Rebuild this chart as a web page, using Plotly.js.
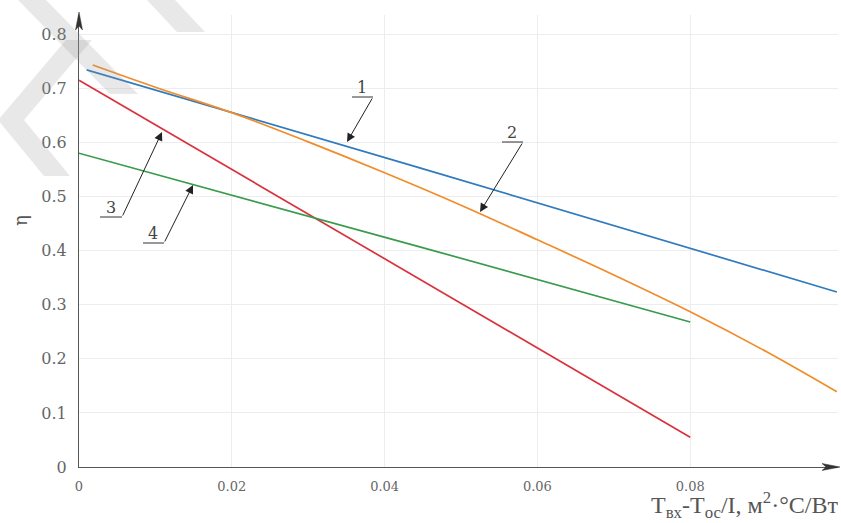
<!DOCTYPE html>
<html>
<head>
<meta charset="utf-8">
<script src="https://cdn.plot.ly/plotly-3.0.1.min.js"></script>
<style>html,body{margin:0;padding:0;background:#fff;}#chart{width:841px;height:523px;}</style>
</head>
<body>
<div id="chart"></div>
<script>
// ---- data ----
var x1 = [0.001, 0.0446, 0.0992];
var y1 = [0.734, 0.553, 0.3235];

var x2 = [0.0018, 0.01, 0.02, 0.03, 0.04, 0.05, 0.06, 0.07, 0.08, 0.09, 0.0992];
var y2 = [0.743, 0.702, 0.655, 0.601, 0.544, 0.484, 0.420, 0.355, 0.287, 0.213, 0.139];

var x3 = [0, 0.0446, 0.08];
var y3 = [0.715, 0.347, 0.055];

var x4 = [0, 0.0446, 0.08];
var y4 = [0.580, 0.407, 0.268];

var xTickVals = [0, 0.02, 0.04, 0.06, 0.08];
var xTickText = ["0", "0.02", "0.04", "0.06", "0.08"];
var yTickVals = [0, 0.1, 0.2, 0.3, 0.4, 0.5, 0.6, 0.7, 0.8];
var yTickText = ["0", "0.1", "0.2", "0.3", "0.4", "0.5", "0.6", "0.7", "0.8"];
var curveLabels = ["1", "2", "3", "4"];

// ---- layout helpers (pixel -> paper) ----
var L = 79, R = 3, T = 15, B = 56, W = 841, H = 523;
var PW = W - L - R, PH = H - T - B;
function px(x) { return (x - L) / PW; }
function py(y) { return (H - B - y) / PH; }
function pathOf(pts, close) {
  var s = pts.map(function (p, i) { return (i ? "L" : "M") + px(p[0]).toFixed(5) + "," + py(p[1]).toFixed(5); }).join(" ");
  return s + (close ? " Z" : "");
}

var serif = "DejaVu Serif";
var traces = [
  {x: x1, y: y1, mode: "lines", line: {color: "#2f7bbd", width: 1.7}, hoverinfo: "skip"},
  {x: x2, y: y2, mode: "lines", line: {color: "#f08c2a", width: 1.7, shape: "spline"}, hoverinfo: "skip"},
  {x: x3, y: y3, mode: "lines", line: {color: "#d9323f", width: 1.7}, hoverinfo: "skip"},
  {x: x4, y: y4, mode: "lines", line: {color: "#3a9b4c", width: 1.7}, hoverinfo: "skip"}
];

var wm = "rgba(150,150,150,0.22)";
function band(pts) {
  return {type: "path", xref: "paper", yref: "paper", layer: "above", path: pathOf(pts, true),
    fillcolor: wm, line: {width: 0}};
}
var shapes = [
  // watermark bands
  band([[18, 0], [46, 0], [138, 94], [110, 94]]),
  band([[66, 40], [92, 40], [24, 120], [-2, 120]]),
  band([[-2, 120], [24, 120], [70, 176], [44, 176]]),
  band([[147, 0], [175, 0], [205, 32], [177, 32]]),
  // axis arrow heads
  {type: "path", xref: "paper", yref: "paper", path: pathOf([[79, 12], [75.5, 30], [79, 26], [82.5, 30]], true), fillcolor: "#333", line: {color: "#333", width: 0.5}},
  {type: "path", xref: "paper", yref: "paper", path: pathOf([[840, 467], [822, 463.5], [826, 467], [822, 470.5]], true), fillcolor: "#333", line: {color: "#333", width: 0.5}},
  // underlines for curve labels
  {type: "line", xref: "paper", yref: "paper", x0: px(352), x1: px(373), y0: py(97), y1: py(97), line: {color: "#333", width: 1}},
  {type: "line", xref: "paper", yref: "paper", x0: px(502), x1: px(523), y0: py(142), y1: py(142), line: {color: "#333", width: 1}},
  {type: "line", xref: "paper", yref: "paper", x0: px(100), x1: px(122), y0: py(217), y1: py(217), line: {color: "#333", width: 1}},
  {type: "line", xref: "paper", yref: "paper", x0: px(143), x1: px(164), y0: py(243), y1: py(243), line: {color: "#333", width: 1}}
];

function leader(tipX, tipY, tailX, tailY) {
  return {xref: "paper", yref: "paper", x: px(tipX), y: py(tipY), ax: tailX - tipX, ay: tailY - tipY,
    text: "", showarrow: true, arrowhead: 2, arrowsize: 1.7, arrowwidth: 1, arrowcolor: "#222"};
}
function label(t, x, y) {
  return {xref: "paper", yref: "paper", x: px(x), y: py(y), text: t, showarrow: false,
    xanchor: "center", yanchor: "middle", font: {family: serif, size: 16, color: "#444"}};
}

var annotations = [
  leader(347, 142, 373, 97), leader(480, 212, 523, 142), leader(162, 132, 122, 217), leader(193, 185, 164, 243),
  label(curveLabels[0], 362, 87), label(curveLabels[1], 512, 132), label(curveLabels[2], 111, 207), label(curveLabels[3], 153, 233),
  {xref: "paper", yref: "paper", x: px(20), y: py(221), text: "η", textangle: -90, showarrow: false,
    xanchor: "center", yanchor: "middle", font: {family: serif, size: 18, color: "#555"}},
  {xref: "paper", yref: "paper", x: px(840), y: py(505), text: "T<sub>вх</sub>-T<sub>ос</sub>/I, м<sup>2</sup>·°C/Вт", showarrow: false,
    xanchor: "right", yanchor: "middle", font: {family: "Liberation Serif", size: 24, color: "#555"}}
];

var layout = {
  width: W, height: H,
  margin: {l: L, r: R, t: T, b: B, pad: 0},
  paper_bgcolor: "#fff", plot_bgcolor: "#fff",
  showlegend: false,
  xaxis: {
    range: [0, 759 / 7640], tickvals: xTickVals, ticktext: xTickText,
    showgrid: true, gridcolor: "#ededed", gridwidth: 1, zeroline: false,
    showline: true, linecolor: "#555", linewidth: 1, ticks: "", ticklabelstandoff: 7,
    tickfont: {family: serif, size: 13, color: "#666"}, fixedrange: true
  },
  yaxis: {
    range: [0, PH / 541], tickvals: yTickVals, ticktext: yTickText,
    showgrid: true, gridcolor: "#ededed", gridwidth: 1, zeroline: false,
    showline: true, linecolor: "#555", linewidth: 1, ticks: "", ticklabelstandoff: 8,
    tickfont: {family: serif, size: 16, color: "#666"}, fixedrange: true
  },
  shapes: shapes,
  annotations: annotations
};

Plotly.newPlot("chart", traces, layout, {displayModeBar: false, staticPlot: true});
</script>
</body>
</html>
